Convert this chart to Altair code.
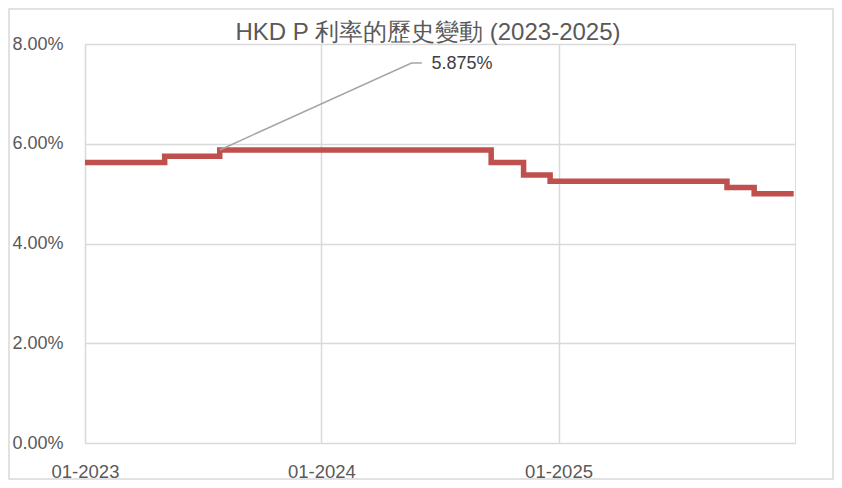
import altair as alt
import pandas as pd

# Step-change dates and HKD Prime rate (%)
change_dates = ["2023-01-01", "2023-05-04", "2023-07-28", "2024-09-19", "2024-11-08",
                "2024-12-19", "2025-09-18", "2025-10-30", "2025-12-30"]
rates_pct = [5.625, 5.75, 5.875, 5.625, 5.375, 5.25, 5.125, 5.0, 5.0]

# Annotation (callout for peak 5.875%)
callout_dates = ["2023-07-28", "2024-05-19", "2024-06-04"]
callout_vals = [0.05875, 0.0762, 0.0762]
label_date = ["2024-06-19"]
label_val = [0.0759]
label_text = ["5.875%"]

title_text = "HKD P 利率的歷史變動 (2023-2025)"
y_ticks = [0.0, 0.02, 0.04, 0.06, 0.08]

df = pd.DataFrame({"date": change_dates, "rate": [r / 100 for r in rates_pct]})
callout_df = pd.DataFrame({"date": callout_dates, "v": callout_vals})
label_df = pd.DataFrame({"date": label_date, "v": label_val, "t": label_text})

def d(y, m=1, day=1):
    return alt.DateTime(year=y, month=m, date=day, utc=True)

x_scale = alt.Scale(type="utc", domain=[d(2023), d(2026)])
y_scale = alt.Scale(domain=[0, 0.08])

x_enc = alt.X("date:T", scale=x_scale, title=None,
              axis=alt.Axis(values=[d(2023), d(2024), d(2025)], format="%m-%Y",
                            grid=True, gridColor="#D9D9D9", gridWidth=1.5,
                            domain=False, ticks=False, labelFontSize=18.5,
                            labelColor="#595959", labelFont="Liberation Sans",
                            labelBaseline="alphabetic", labelPadding=34,
                            labelFlush=False))
y_enc = alt.Y("rate:Q", scale=y_scale, title=None,
              axis=alt.Axis(values=y_ticks, format=".2%", grid=True,
                            gridColor="#D9D9D9", gridWidth=1.5, domain=False,
                            ticks=False, labelAlign="left", labelPadding=73,
                            labelBaseline="middle", labelFontSize=18,
                            labelColor="#595959", labelFont="Liberation Sans"))

line = alt.Chart(df).mark_line(color="#C0504D", strokeWidth=5.5,
                               interpolate="step-after", strokeCap="butt").encode(
    x=x_enc, y=y_enc)

leader = alt.Chart(callout_df).mark_line(color="#A5A5A5", strokeWidth=1.5).encode(
    x=alt.X("date:T", scale=x_scale), y=alt.Y("v:Q", scale=y_scale))

label = alt.Chart(label_df).mark_text(align="left", baseline="middle", fontSize=18,
                                      color="#404040", font="Liberation Sans").encode(
    x=alt.X("date:T", scale=x_scale), y=alt.Y("v:Q", scale=y_scale), text="t:N")

title = alt.Chart(alt.Data(values=[{"t": title_text}])).mark_text(
    align="center", baseline="alphabetic", fontSize=24, font="Liberation Sans",
    color="#595959").encode(x=alt.value(343), y=alt.value(-4), text="t:N")

frame = alt.Chart(alt.Data(values=[{"a": 1}])).mark_rect(
    filled=False, stroke="#D9D9D9", strokeWidth=1.5).encode(
    x=alt.value(-76), x2=alt.value(748), y=alt.value(-35), y2=alt.value(435))

chart = alt.layer(frame, line, leader, label, title).properties(
    width=710, height=399,
    autosize=alt.AutoSizeParams(type="none"),
    padding={"left": 77, "top": 36, "right": 39, "bottom": 37},
).configure_view(stroke=None).configure(background="white")

chart.save("out.html", embed_options={"renderer": "svg", "actions": False})
